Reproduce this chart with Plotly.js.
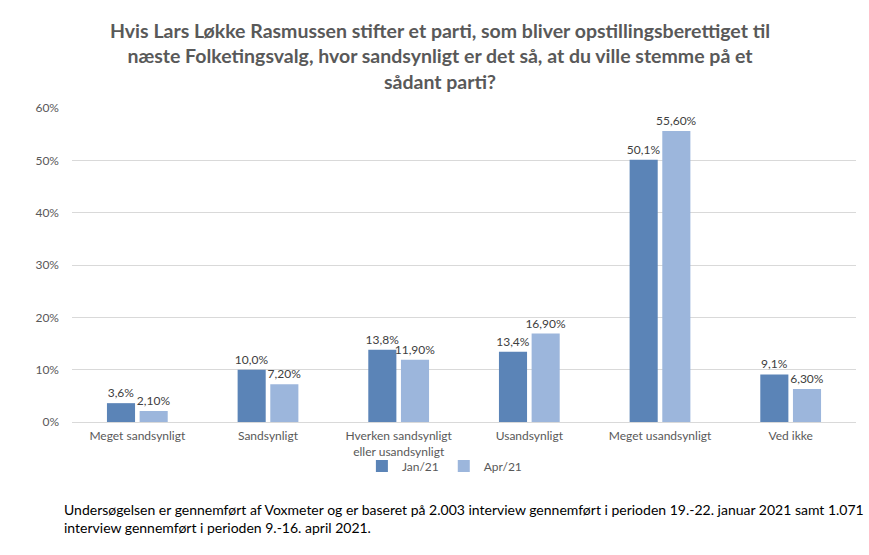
<!DOCTYPE html>
<html>
<head>
<meta charset="utf-8">
<script src="https://cdn.plot.ly/plotly-3.0.1.min.js"></script>
<style>
  html, body { margin: 0; padding: 0; background: #fff; }
  #chart { width: 869px; height: 555px; }
</style>
</head>
<body>
<div id="chart"></div>
<script>
const categories = [
  "Meget sandsynligt",
  "Sandsynligt",
  "Hverken sandsynligt<br>eller usandsynligt",
  "Usandsynligt",
  "Meget usandsynligt",
  "Ved ikke"
];
const jan21 = [3.6, 10.0, 13.8, 13.4, 50.1, 9.1];
const apr21 = [2.1, 7.2, 11.9, 16.9, 55.6, 6.3];
const yTicks = [0, 10, 20, 30, 40, 50, 60];

const fontFamily = "Lato, 'Open Sans', sans-serif";
const labelFont = { family: fontFamily, size: 12, color: "#404040" };

const traces = [
  {
    type: "bar",
    name: "Jan/21",
    x: categories,
    y: jan21,
    marker: { color: "#5B84B7" },
    texttemplate: "%{y:.1f}%",
    textposition: "outside",
    constraintext: "none",
    textfont: labelFont,
    cliponaxis: false,
    hoverinfo: "skip"
  },
  {
    type: "bar",
    name: "Apr/21",
    x: categories,
    y: apr21,
    marker: { color: "#9CB6DC" },
    texttemplate: "%{y:.2f}%",
    textposition: "outside",
    constraintext: "none",
    textfont: labelFont,
    cliponaxis: false,
    hoverinfo: "skip"
  }
];

const layout = {
  width: 869,
  height: 555,
  margin: { l: 72, r: 13, t: 108, b: 133 },
  paper_bgcolor: "#ffffff",
  plot_bgcolor: "#ffffff",
  separators: ",.",
  font: { family: fontFamily, color: "#595959", size: 12 },
  barmode: "group",
  bargap: 0.5,
  bargroupgap: 0.14,
  xaxis: {
    showline: false,
    ticks: "",
    ticklabelstandoff: 5,
    tickfont: { size: 12, color: "#595959" }
  },
  yaxis: {
    range: [0, 60],
    tickvals: yTicks,
    ticktext: yTicks.map((v) => v + "%"),
    showgrid: true,
    gridcolor: "#d9d9d9",
    zeroline: true,
    zerolinecolor: "#d9d9d9",
    showline: false,
    ticks: "",
    ticklabelstandoff: 12,
    tickfont: { size: 12, color: "#595959" }
  },
  showlegend: true,
  legend: {
    orientation: "h",
    x: 0.475,
    xanchor: "center",
    y: -0.14,
    yanchor: "middle",
    bgcolor: "rgba(0,0,0,0)",
    font: { size: 12, color: "#595959" },
    itemwidth: 30
  },
  annotations: [
    {
      // chart title
      xref: "paper",
      yref: "paper",
      x: 0.47,
      y: 1.29,
      xanchor: "center",
      yanchor: "top",
      align: "center",
      showarrow: false,
      text: "<b>Hvis Lars Løkke Rasmussen stifter et parti, som bliver opstillingsberettiget til<br>næste Folketingsvalg, hvor sandsynligt er det så, at du ville stemme på et<br>sådant parti?</b>",
      font: { family: fontFamily, size: 19.5, color: "#595959" }
    },
    {
      // footnote
      xref: "paper",
      yref: "paper",
      x: -0.013,
      y: -0.245,
      xanchor: "left",
      yanchor: "top",
      align: "left",
      showarrow: false,
      text: "Undersøgelsen er gennemført af Voxmeter og er baseret på 2.003 interview gennemført i perioden 19.-22. januar 2021 samt 1.071<br>interview gennemført i perioden 9.-16. april 2021.",
      font: { family: fontFamily, size: 14, color: "#000000" }
    }
  ]
};

Plotly.newPlot("chart", traces, layout, { staticPlot: true });
</script>
</body>
</html>
